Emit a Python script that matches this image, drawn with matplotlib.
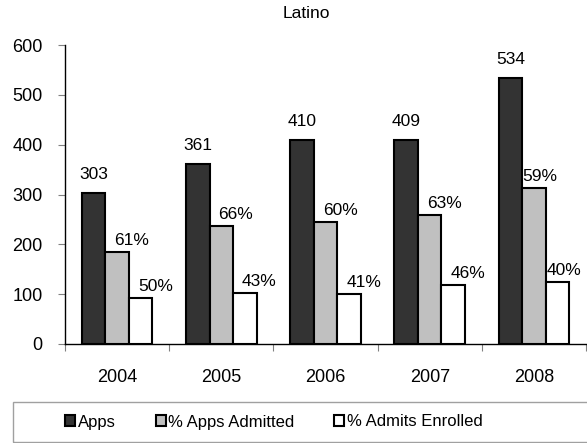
import numpy as np
import matplotlib
matplotlib.use('Agg')
import matplotlib.pyplot as plt
from matplotlib.patches import Rectangle

plt.rcParams['font.family'] = ['Liberation Sans', 'DejaVu Sans']

# chart data
years = ['2004', '2005', '2006', '2007', '2008']
apps = [303, 361, 410, 409, 534]
admitted = [185, 237, 244, 258, 314]
enrolled = [92, 102, 100, 118, 125]
admit_pct = ['61%', '66%', '60%', '63%', '59%']
enroll_pct = ['50%', '43%', '41%', '46%', '40%']
series_names = ['Apps', '% Apps Admitted', '% Admits Enrolled']

fig = plt.figure(figsize=(5.87, 4.43), dpi=100)
ax = fig.add_axes([65/587, 1-344/443, 521/587, 299/443])

x = np.arange(len(years))
w = 0.226
colors = ['#333333', '#c0c0c0', '#ffffff']
for i, (vals, col) in enumerate(zip([apps, admitted, enrolled], colors)):
    ax.bar(x + (i - 1) * w, vals, w, color=col, edgecolor='black',
           linewidth=1.5, label=series_names[i], zorder=3)

# value labels
for i in range(len(years)):
    ax.annotate(str(apps[i]), (x[i] - w, apps[i]), xytext=(0, 10),
                textcoords='offset points', ha='center', va='baseline', fontsize=12.5)
    shift = 0.14 if i < len(years) - 1 else 0.06
    ax.annotate(admit_pct[i], (x[i] + shift, admitted[i]), xytext=(0, 5),
                textcoords='offset points', ha='center', va='baseline', fontsize=12.5)
    ax.annotate(enroll_pct[i], (x[i] + w + shift, enrolled[i]), xytext=(0, 5),
                textcoords='offset points', ha='center', va='baseline', fontsize=12.5)

ax.set_xlim(-0.5, len(years) - 0.5)
ax.set_ylim(0, 600)
ax.set_yticks(range(0, 601, 100))
ax.tick_params(axis='y', length=5, color='#808080', pad=11, labelsize=13)

ax.set_xticks(np.arange(len(years) + 1) - 0.5)
ax.set_xticklabels([])
ax.set_xticks(x, minor=True)
ax.set_xticklabels(years, minor=True)
ax.tick_params(axis='x', which='major', length=5, color='#808080')
ax.tick_params(axis='x', which='minor', length=0, pad=18, labelsize=13)

for s in ['top', 'right']:
    ax.spines[s].set_visible(False)
for s in ['left', 'bottom']:
    ax.spines[s].set_linewidth(1.0)

fig.text(306/587, 1-14/443, 'Latino', ha='center', va='center', fontsize=12.5)

fig.legend(loc='center', bbox_to_anchor=(274/587, 1-422/443), ncol=3,
           frameon=False, fontsize=12, handlelength=0.6, handleheight=0.6,
           handletextpad=0.15, columnspacing=2.4)
fig.patches.append(Rectangle((13/587, 1-442/443), 1.0, 40/443, transform=fig.transFigure,
                             fill=False, edgecolor='#a0a0a0', linewidth=1.0))

fig.savefig('out.png', dpi=100)
